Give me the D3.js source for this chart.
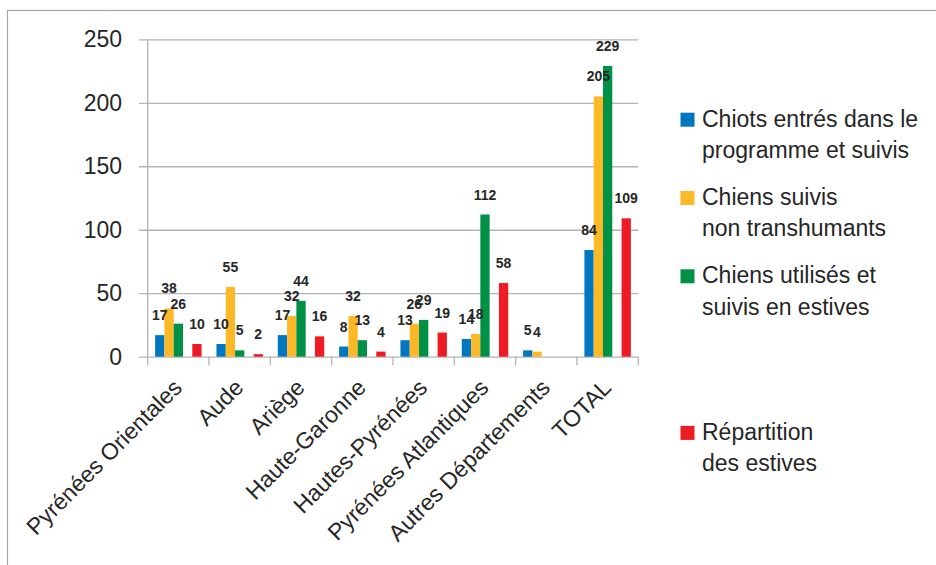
<!DOCTYPE html>
<html>
<head>
<meta charset="utf-8">
<script src="https://cdn.jsdelivr.net/npm/d3@7"></script>
<style>
  html, body { margin: 0; padding: 0; background: #fff; }
  svg { display: block; }
  text { font-family: "Liberation Sans", Arial, sans-serif; fill: #262626; }
</style>
</head>
<body>
<svg id="chart" width="936" height="565"></svg>
<script>
// ---- Data ----
const categories = ["Pyrénées Orientales", "Aude", "Ariège", "Haute-Garonne", "Hautes-Pyrénées", "Pyrénées Atlantiques", "Autres Départements", "TOTAL"];
const chiots = [17, 10, 17, 8, 13, 14, 5, 84];
const nonTranshumants = [38, 55, 32, 32, 26, 18, 4, 205];
const utilisesEstives = [26, 5, 44, 13, 29, 112, null, 229];
const repartitionEstives = [10, 2, 16, 4, 19, 58, null, 109];
const legendLabels = [
  ["Chiots entrés dans le", "programme et suivis"],
  ["Chiens suivis", "non transhumants"],
  ["Chiens utilisés et", "suivis en estives"],
  [],
  ["Répartition", "des estives"]
];
const yTicks = [0, 50, 100, 150, 200, 250];

// ---- Series (slot 3 is an empty series in the original) ----
const colors = ["#0077C0", "#FDB827", "#009046", null, "#ED1C24"];
const series = [
  { slot: 0, values: chiots },
  { slot: 1, values: nonTranshumants },
  { slot: 2, values: utilisesEstives },
  { slot: 4, values: repartitionEstives }
];

const svg = d3.select("#chart");

// frame
svg.append("rect").attr("x", 7.5).attr("y", 10.5).attr("width", 940).attr("height", 570)
  .attr("fill", "none").attr("stroke", "#a6a6a6").attr("stroke-width", 1.2);

const pLeft = 147.7, pRight = 638.3, pTop = 39.3, pBottom = 356.7;

const x = d3.scaleBand().domain(categories).range([pLeft, pRight]).paddingInner(0).paddingOuter(0);
const xs = d3.scaleBand().domain([0, 1, 2, 3, 4]).range([0, x.bandwidth()]).paddingInner(0).paddingOuter(0.8);
const y = d3.scaleLinear().domain([0, 250]).range([pBottom, pTop]);

// gridlines + y axis
const yAxis = svg.append("g").attr("transform", `translate(${pLeft},0)`)
  .call(d3.axisLeft(y).tickValues(yTicks).tickSize(-(pRight - pLeft)).tickPadding(26));
yAxis.select(".domain").remove();
yAxis.selectAll(".tick line").attr("x1", -8.7).attr("stroke", "#b3b3b3").attr("stroke-width", 1.3);
yAxis.selectAll(".tick text").attr("font-size", 23).attr("font-family", "Liberation Sans, Arial, sans-serif")
  .attr("fill", "#262626").attr("x", 122 - pLeft);

svg.append("line").attr("x1", pLeft).attr("x2", pLeft).attr("y1", pTop).attr("y2", pBottom)
  .attr("stroke", "#b3b3b3").attr("stroke-width", 1.3);

// x axis ticks at band boundaries
const bounds = categories.map(c => x(c)).concat([x(categories[categories.length - 1]) + x.bandwidth()]);
svg.append("g").selectAll("line").data(bounds).join("line")
  .attr("x1", d => d).attr("x2", d => d).attr("y1", pBottom).attr("y2", pBottom + 8.5)
  .attr("stroke", "#b3b3b3").attr("stroke-width", 1.3);

// bars
series.forEach(s => {
  svg.append("g").selectAll("rect")
    .data(s.values.map((v, i) => ({ v, c: categories[i] })).filter(d => d.v != null))
    .join("rect")
    .attr("x", d => x(d.c) + xs(s.slot))
    .attr("width", xs.bandwidth())
    .attr("y", d => y(d.v))
    .attr("height", d => y(0) - y(d.v))
    .attr("fill", colors[s.slot]);
});

// value labels
series.forEach(s => {
  svg.append("g").selectAll("text")
    .data(s.values.map((v, i) => ({ v, c: categories[i] })).filter(d => d.v != null))
    .join("text")
    .attr("x", d => x(d.c) + xs(s.slot) + xs.bandwidth() / 2)
    .attr("y", d => y(d.v) - 15)
    .attr("text-anchor", "middle")
    .attr("font-size", 14)
    .attr("font-weight", "bold")
    .attr("fill", "#262626")
    .text(d => d.v);
});

// category labels
svg.append("g").selectAll("text").data(categories).join("text")
  .attr("transform", c => `translate(${x(c) + x.bandwidth() / 2 + 5},389) rotate(-45)`)
  .attr("text-anchor", "end")
  .attr("font-size", 23)
  .text(c => c);

// legend
const lg = svg.append("g");
legendLabels.forEach((lines, i) => {
  if (!lines.length) return;
  const base = 126.7 + i * 78.3;
  lg.append("rect").attr("x", 680.5).attr("y", base - 14).attr("width", 14).attr("height", 14)
    .attr("fill", colors[i]);
  lines.forEach((t, j) => {
    lg.append("text").attr("x", 702).attr("y", base + j * 31.4)
      .attr("font-size", 23).text(t);
  });
});
</script>
</body>
</html>
